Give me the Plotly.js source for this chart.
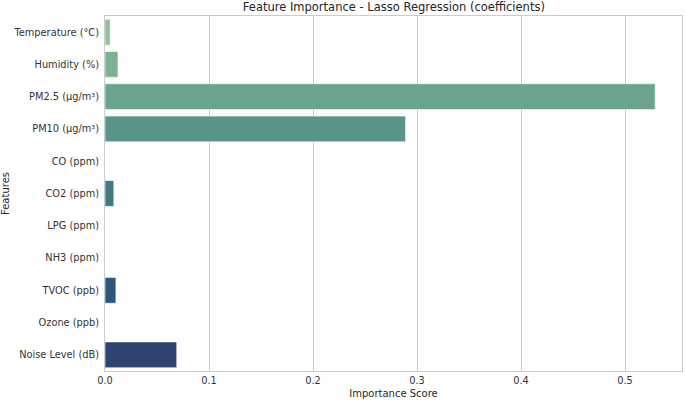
<!DOCTYPE html>
<html><head><meta charset="utf-8">
<script src="https://cdn.plot.ly/plotly-3.0.1.min.js"></script>
<style>body{margin:0;background:#fff}#chart{width:685px;height:402px}</style>
</head><body><div id="chart"></div>
<script>
const features = ["Temperature (°C)","Humidity (%)","PM2.5 (µg/m³)","PM10 (µg/m³)","CO (ppm)","CO2 (ppm)","LPG (ppm)","NH3 (ppm)","TVOC (ppb)","Ozone (ppb)","Noise Level (dB)"];
const importance = [0.005, 0.0125, 0.529, 0.289, 0.0, 0.0085, 0.0, 0.0, 0.0105, 0.0, 0.069];
const barColors = ["#8fc09a","#7db291","#6aa48c","#5a9589","#4e8787","#3f7a85","#356c83","#2e6080","#2b577c","#2d4d77","#2f4371"];
const tickVals = [0, 0.1, 0.2, 0.3, 0.4, 0.5];
const tickText = ["0.0","0.1","0.2","0.3","0.4","0.5"];

const font = "DejaVu Sans, sans-serif";
Plotly.newPlot("chart", [{
  type: "bar", orientation: "h",
  x: importance, y: features,
  width: 0.8,
  marker: {color: barColors, line: {color: "rgba(255,255,255,0.6)", width: 1}},
  hoverinfo: "x+y"
}], {
  width: 685, height: 402,
  margin: {l: 105, r: 3, t: 16, b: 31},
  paper_bgcolor: "#fff", plot_bgcolor: "#fff",
  font: {family: font, size: 10, color: "#262626"},
  title: {text: "Feature Importance - Lasso Regression (coefficients)", font: {family: font, size: 11.5, color: "#262626"}, x: 0.575, xanchor: "center", y: 0.983, yanchor: "middle"},
  xaxis: {
    range: [0, 0.5548], tickvals: tickVals, ticktext: tickText,
    showgrid: true, gridcolor: "#cccccc", gridwidth: 1, zeroline: false,
    showline: true, linecolor: "#cccccc", linewidth: 1, mirror: true,
    ticks: "", ticklen: 0,
    title: {text: "Importance Score", font: {family: font, size: 10, color: "#262626"}, standoff: 5},
    tickfont: {family: font, size: 9.8, color: "#333333"}
  },
  yaxis: {
    autorange: "reversed", type: "category",
    showgrid: false, zeroline: false,
    showline: true, linecolor: "#cccccc", linewidth: 1, mirror: true,
    ticks: "", ticklen: 0, ticklabelstandoff: 3,
    title: {text: "Features", font: {family: font, size: 10, color: "#262626"}, standoff: 6},
    tickfont: {family: font, size: 9.8, color: "#333333"}
  },
  showlegend: false
}, {displayModeBar: false});
</script></body></html>
